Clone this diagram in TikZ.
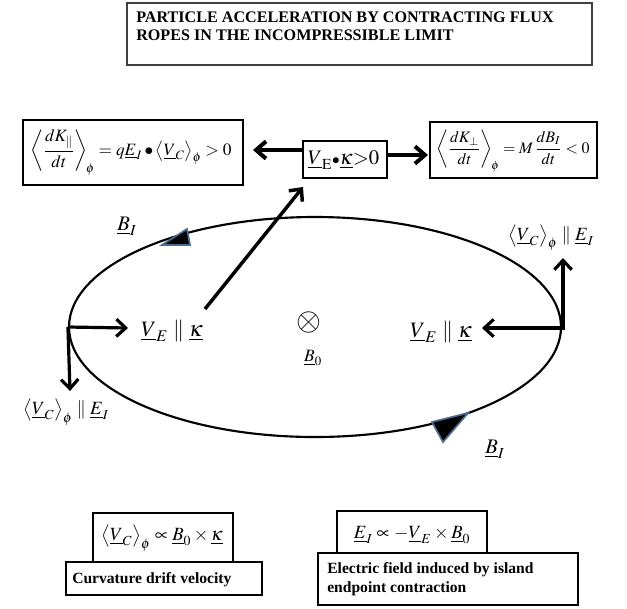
\documentclass[tikz,border=0pt]{standalone}
\usepackage{amsmath}
\usepackage{mathptmx}
\usepackage[no-math]{fontspec}
\setmainfont{Liberation Serif}
\usetikzlibrary{arrows.meta,shapes.geometric}
\definecolor{triedge}{HTML}{4A6A90}
\tikzset{
  box/.style={draw, line width=0.8pt, inner sep=0pt},
  ttl/.style={font=\fontsize{12.1}{14}\selectfont\bfseries, anchor=base west, inner sep=0pt},
  lbl/.style={font=\fontsize{11.7}{13}\selectfont\bfseries, anchor=base west, inner sep=0pt},
  eq/.style={font=\fontsize{13}{15}\selectfont, inner sep=0pt},
  eqb/.style={font=\fontsize{14}{16}\selectfont, inner sep=0pt},
  big/.style={font=\fontsize{15.5}{18}\selectfont, inner sep=0pt},
  vpar/.style={font=\fontsize{16.5}{19}\selectfont, inner sep=0pt},
  thickarrow/.style={line width=2.4pt, -{Straight Barb[length=7pt,width=13pt]}},
  heavyarrow/.style={line width=3pt, -{Straight Barb[length=7.5pt,width=13pt]}},
  tri/.style={fill=black, draw=triedge, line width=1.3pt, line join=miter}
}
\begin{document}
\begin{tikzpicture}[x=0.75pt, y=-0.75pt]
\useasboundingbox (0,0) rectangle (627,608);
% title
\node[box, line width=1pt, draw=black!75, minimum width=348.75pt, minimum height=46.5pt] (title) at (359.5,34) {};
\node[ttl] at (136,22.5) {PARTICLE ACCELERATION BY CONTRACTING FLUX};
\node[ttl] at (136,40) {ROPES IN THE INCOMPRESSIBLE LIMIT};
% top boxes
\node[box, minimum width=165pt, minimum height=48.75pt] (tl) at (133,152.5) {};
\node[eq] (tltext) at (131,152.5) {$\left\langle \dfrac{dK_{\parallel}}{dt}\right\rangle_{\!\phi} = q\underline{E}_I \bullet \bigl\langle \underline{V}_C\bigr\rangle_{\phi} > 0$};
\node[box, minimum width=63pt, minimum height=27.75pt] (mid) at (345,159.5) {};
\node[big] (midtext) at (343.5,160) {$\underline{V}_{\mathrm{E}}{\scriptstyle\bullet}\underline{\kappa}{>}0$};
\node[box, minimum width=125.25pt, minimum height=42pt] (tr) at (513.5,150) {};
\node[font=\fontsize{12}{14}\selectfont, inner sep=0pt] (trtext) at (513,151) {$\left\langle \dfrac{dK_{\perp}}{dt}\right\rangle_{\!\phi} = M\,\dfrac{dB_I}{dt} < 0$};
% arrows from mid box
\coordinate (la) at (303,150);
\coordinate (lb) at (253,150);
\coordinate (ra) at (387,155);
\coordinate (rb) at (428,155);
\draw[heavyarrow] (la) -- (lb);
\draw[heavyarrow] (ra) -- (rb);
% ellipse
\node[draw, ellipse, line width=1.6pt, minimum width=369pt, minimum height=165pt, inner sep=0pt] (loop) at (315,327) {};
% triangles
\filldraw[tri] (162,245) -- (187,229) -- (190,245) -- cycle;
\filldraw[tri] (432,422) -- (468,413) -- (443,442) -- cycle;
% field labels
\node[big] (bit) at (127,226) {$\underline{B}_I$};
\node[big] (bib) at (495,449) {$\underline{B}_I$};
\node[font=\fontsize{24}{26}\selectfont, inner sep=0pt] (ox) at (309,322) {$\otimes$};
\node[eq] (b0) at (313,358) {$\underline{B}_0$};
\node[vpar] (vel) at (172,331) {$\underline{V}_E \parallel \underline{\kappa}$};
\node[vpar] (ver) at (441,332) {$\underline{V}_E \parallel \underline{\kappa}$};
\node[eqb] (vctr) at (551,238) {$\bigl\langle \underline{V}_C\bigr\rangle_{\phi} \parallel \underline{E}_I$};
\node[eqb] (vcbl) at (66,412) {$\bigl\langle \underline{V}_C\bigr\rangle_{\phi} \parallel \underline{E}_I$};
% arrows on loop
\coordinate (lh) at (128,328);
\coordinate (lv) at (70,391);
\coordinate (re) at (563,328);
\coordinate (rh) at (482,328);
\coordinate (rv) at (563,258);
\draw[thickarrow] (loop.west) -- (lh);
\draw[thickarrow] (loop.west) -- (lv);
\draw[thickarrow, line cap=rect] (re) -- (rh);
\draw[thickarrow] (re) -- (rv);
\coordinate (dstart) at (205,309);
\coordinate (dend) at (303,187);
\draw[thickarrow, line width=2.6pt] (dstart) -- (dend);
% bottom boxes
\node[box, minimum width=105pt, minimum height=36.75pt] (fl) at (163,537.5) {};
\node[eqb] (fltext) at (162,538) {$\bigl\langle \underline{V}_C\bigr\rangle_{\phi} \propto \underline{B}_0\times\underline{\kappa}$};
\node[box, minimum width=147pt, minimum height=24.75pt] (ll) at (164,578.5) {};
\node[lbl] at (72,583) {Curvature drift velocity};
\node[box, minimum width=112.5pt, minimum height=31.5pt] (fr) at (412,532) {};
\node[eqb] (frtext) at (412,535) {$\underline{E}_I \propto -\underline{V}_E\times\underline{B}_0$};
\node[box, minimum width=195pt, minimum height=39pt] (lr) at (448,579) {};
\node[lbl] at (327,573) {Electric field induced by island};
\node[lbl] at (327,592) {endpoint contraction};
\end{tikzpicture}
\end{document}
